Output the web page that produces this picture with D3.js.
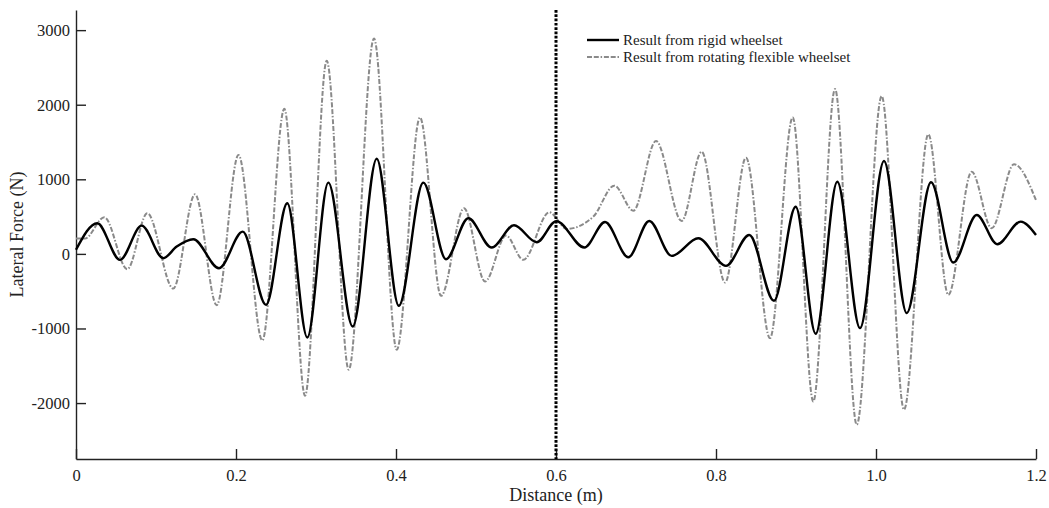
<!DOCTYPE html>
<html>
<head>
<meta charset="utf-8">
<script src="https://cdn.jsdelivr.net/npm/d3@7"></script>
<style>
  body { margin: 0; background: #fff; }
  svg text { font-family: 'Liberation Serif', 'Times New Roman', serif; fill: #222; }
  .axis path, .axis line { stroke: #222; stroke-width: 1.4; }
</style>
</head>
<body>
<div id="chart"></div>
<script>
// extrema: [distance (m), lateral force (N)]
const rigid = [
  [0, 55], [0.0266, 411], [0.055, -80], [0.0821, 379], [0.1091, -58],
  [0.1259, 98], [0.1466, 197], [0.1788, -192], [0.2084, 299], [0.2375, -683],
  [0.2641, 679], [0.2891, -1120], [0.3154, 955], [0.3459, -973], [0.3759, 1276],
  [0.4035, -696], [0.4341, 955], [0.4625, -71], [0.4904, 478], [0.5196, 85],
  [0.5475, 384], [0.5759, 157], [0.6005, 440], [0.6354, 85], [0.6613, 428],
  [0.6904, -45], [0.7166, 442], [0.7446, -27], [0.7779, 210], [0.8125, -161],
  [0.8416, 254], [0.8725, -629], [0.8996, 633], [0.9246, -1071], [0.9516, 968],
  [0.98, -995], [1.01, 1245], [1.0384, -794], [1.0688, 960], [1.0966, -116],
  [1.1259, 522], [1.1516, 130], [1.1809, 433], [1.2, 254]
];
const flexible = [
  [0, 205], [0.011, 205], [0.0354, 491], [0.0641, -205], [0.0891, 545],
  [0.1216, -464], [0.1488, 799], [0.1759, -687], [0.2031, 1326], [0.2329, -1161],
  [0.2604, 1945], [0.2863, -1901], [0.3134, 2588], [0.3409, -1553], [0.3725, 2888],
  [0.4009, -1285], [0.43, 1830], [0.4563, -562], [0.485, 612], [0.5113, -371],
  [0.5375, 245], [0.5591, -80], [0.5916, 558], [0.6134, 335], [0.6467, 500],
  [0.6729, 915], [0.6967, 580], [0.725, 1513], [0.7571, 442], [0.7821, 1370],
  [0.8113, -384], [0.8375, 1290], [0.8675, -1129], [0.8959, 1830], [0.9216, -1978],
  [0.9488, 2210], [0.9759, -2290], [1.0071, 2116], [1.035, -2089], [1.0654, 1603],
  [1.0904, -549], [1.1196, 1102], [1.1446, 344], [1.1725, 1201], [1.2, 720]
];
const seriesNames = ['Result from rigid wheelset', 'Result from rotating flexible wheelset'];
const xTicks = [0, 0.2, 0.4, 0.6, 0.8, 1.0, 1.2];
const xTickLabels = ['0', '0.2', '0.4', '0.6', '0.8', '1.0', '1.2'];
const yTicks = [-2000, -1000, 0, 1000, 2000, 3000];
const markerX = 0.6;

const width = 1049;
const height = 508;
const margin = { top: 10, right: 13, bottom: 49, left: 76 };

const svg = d3.select('#chart').append('svg')
  .attr('width', width)
  .attr('height', height);

const xScale = d3.scaleLinear()
  .domain([0, 1.2])
  .range([margin.left, width - margin.right]);
const yScale = d3.scaleLinear()
  .domain([-2750, 3270])
  .range([height - margin.bottom, margin.top]);

// axes, ticks point inwards
svg.append('g')
  .attr('class', 'x axis')
  .attr('transform', 'translate(0,' + (height - margin.bottom) + ')')
  .call(d3.axisBottom(xScale)
    .tickValues(xTicks)
    .tickFormat((d, i) => xTickLabels[i])
    .tickSizeInner(-10)
    .tickSizeOuter(0)
    .tickPadding(10))
  .call(g => g.selectAll('text').style('font-size', '16.5px'));

svg.append('g')
  .attr('class', 'y axis')
  .attr('transform', 'translate(' + margin.left + ',0)')
  .call(d3.axisLeft(yScale)
    .tickValues(yTicks)
    .tickFormat(d => String(d))
    .tickSizeInner(-10)
    .tickSizeOuter(0)
    .tickPadding(6))
  .call(g => g.selectAll('text').style('font-size', '16.5px'));

// axis titles
svg.append('text')
  .attr('x', (xScale.range()[0] + xScale.range()[1]) / 2)
  .attr('y', 501)
  .attr('text-anchor', 'middle')
  .style('font-size', '18px')
  .text('Distance (m)');

svg.append('text')
  .attr('transform', 'translate(23,' + (margin.top + height - margin.bottom) / 2 + ') rotate(-90)')
  .attr('text-anchor', 'middle')
  .style('font-size', '18px')
  .text('Lateral Force (N)');

const line = d3.line()
  .x(d => xScale(d[0]))
  .y(d => yScale(d[1]))
  .curve(d3.curveMonotoneX);

const styles = [
  { stroke: '#000', width: 2.4, dash: null },
  { stroke: '#8a8a8a', width: 2, dash: '5,1.8,5,1.8,1.5,1.8' }
];

// flexible first so the rigid curve sits on top
svg.append('path')
  .datum(flexible)
  .attr('fill', 'none')
  .attr('stroke', styles[1].stroke)
  .attr('stroke-width', styles[1].width)
  .attr('stroke-dasharray', styles[1].dash)
  .attr('d', line);

svg.append('path')
  .datum(rigid)
  .attr('fill', 'none')
  .attr('stroke', styles[0].stroke)
  .attr('stroke-width', styles[0].width)
  .attr('d', line);

// dotted marker line
svg.append('line')
  .attr('x1', xScale(markerX))
  .attr('x2', xScale(markerX))
  .attr('y1', yScale.range()[1])
  .attr('y2', yScale.range()[0])
  .attr('stroke', '#000')
  .attr('stroke-width', 3)
  .attr('stroke-dasharray', '2.7,1.6');

// legend
const legend = svg.append('g').attr('transform', 'translate(587,40)');
seriesNames.forEach((name, i) => {
  const row = legend.append('g').attr('transform', 'translate(0,' + i * 17 + ')');
  row.append('line')
    .attr('x1', 0)
    .attr('x2', 32)
    .attr('stroke', styles[i].stroke)
    .attr('stroke-width', styles[i].width)
    .attr('stroke-dasharray', styles[i].dash);
  row.append('text')
    .attr('x', 36)
    .attr('dy', '0.33em')
    .style('font-size', '15px')
    .text(name);
});
</script>
</body>
</html>
